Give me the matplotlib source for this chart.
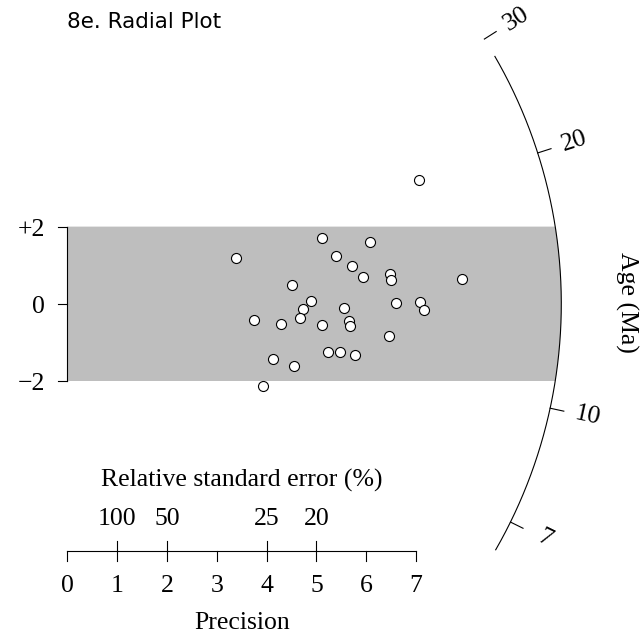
import numpy as np
import matplotlib
matplotlib.use('Agg')
import matplotlib.pyplot as plt

# grain precisions (1/sigma of log age) and standardised estimates
precision = [7.06, 5.12, 6.08, 3.39, 5.39, 5.71, 6.48, 6.49, 5.94, 7.93,
             4.51, 4.90, 6.59, 7.08, 7.15, 4.74, 5.56, 4.66, 3.74, 4.28,
             5.11, 5.66, 5.67, 6.45, 5.23, 5.47, 5.78, 4.13, 4.54, 3.93]
zscore = [3.20, 1.70, 1.59, 1.18, 1.25, 0.97, 0.76, 0.61, 0.70, 0.64,
          0.49, 0.06, 0.03, 0.05, -0.15, -0.13, -0.10, -0.36, -0.41, -0.52,
          -0.54, -0.44, -0.57, -0.83, -1.24, -1.24, -1.32, -1.43, -1.61, -2.14]

t0 = 13.22                  # reference age (Ma), the y=0 line
age_ticks = [7, 10, 20, 30]
arc_range = [6.3, 27.9]     # ages spanned by the drawn arc
prec_ticks = [0, 1, 2, 3, 4, 5, 6, 7]
rse_ticks = [100, 50, 25, 20]
y_ticks = [-2, 0, 2]
y_labels = ['\u22122', '0', '+2']

# pixel layout of the 640x643 canvas
W, H = 640, 643
X0, KX = 67.3, 49.83        # px of precision 0, px per precision unit
Y0, KY = 303.8, 38.6        # px of z=0 (from top), px per z unit
R = 494.0                   # arc radius in px

def dx(px):
    return px/KX

def dy(px):
    return px/KY

def xat(px):
    return (px - X0)/KX

def yat(py):
    return (Y0 - py)/KY

def angle(t):
    return np.arctan((np.log(t) - np.log(t0))*KY/KX)

def onarc(th, r=R):
    return dx(r)*np.cos(th), dy(r)*np.sin(th)

def main():
    plt.rcParams['font.family'] = ['Liberation Serif', 'DejaVu Serif']
    fs = 18.5
    lw = 0.8
    fig = plt.figure(figsize=(W/100., H/100.), dpi=100)
    ax = fig.add_axes([0, 0, 1, 1])
    ax.set_xlim(xat(0), xat(W))
    ax.set_ylim(yat(H), yat(0))
    ax.axis('off')

    # 2-sigma band, closed off by the arc
    thb = np.arcsin(2*KY/R)
    th = np.linspace(thb, -thb, 100)
    bx, by = onarc(th)
    px = np.concatenate([[0, 0], bx])
    py = np.concatenate([[-2, 2], by])
    ax.fill(px, py, color='#BEBEBE', lw=0, zorder=1)

    # age arc with ticks and labels
    th = np.linspace(angle(arc_range[0]), angle(arc_range[1]), 300)
    ax.plot(*onarc(th), color='k', lw=lw, zorder=2)
    for t in age_ticks:
        a = angle(t)
        x1, y1 = onarc(a)
        x2, y2 = onarc(a, R + 14)
        ax.plot([x1, x2], [y1, y2], color='k', lw=lw)
        lx, ly = onarc(a, R + 38)
        ax.text(lx, ly, '%i' % t, rotation=np.degrees(a), rotation_mode='anchor',
                ha='center', va='center', fontsize=fs)
    ax.text(xat(627), yat(302), 'Age (Ma)', rotation=-90, ha='center',
            va='center', fontsize=fs)

    # precision axis along the bottom
    ya = yat(550.7)
    ax.plot([0, 7], [ya, ya], color='k', lw=lw)
    for p in prec_ticks:
        ax.plot([p, p], [ya, ya - dy(10)], color='k', lw=lw)
        ax.text(p, yat(585.7), '%i' % p, ha='center', va='center', fontsize=fs)
    for r in rse_ticks:
        p = 100./r
        ax.plot([p, p], [ya, ya + dy(10)], color='k', lw=lw)
        ax.text(p, yat(519), '%i' % r, ha='center', va='center', fontsize=fs)
    ax.text(3.5, yat(480.7), 'Relative standard error (%)', ha='center',
            va='center', fontsize=fs)
    ax.text(3.5, yat(622.7), 'Precision', ha='center', va='center', fontsize=fs)

    # standardised estimate axis
    ax.plot([0, 0], [-2, 2], color='k', lw=lw)
    for yt, lab in zip(y_ticks, y_labels):
        ax.plot([0, -dx(9.3)], [yt, yt], color='k', lw=lw)
        ax.text(xat(45), yt - dy(3), lab, ha='right', va='center', fontsize=fs)

    ax.scatter(precision, zscore, s=52, facecolor='white', edgecolor='black',
               linewidth=0.8, zorder=3)

    ax.text(xat(67), yat(21.7), '8e. Radial Plot', ha='left', va='center',
            fontsize=15.5, family=['DejaVu Sans'])

    fig.savefig('out.png', dpi=100)

if __name__ == '__main__':
    main()
